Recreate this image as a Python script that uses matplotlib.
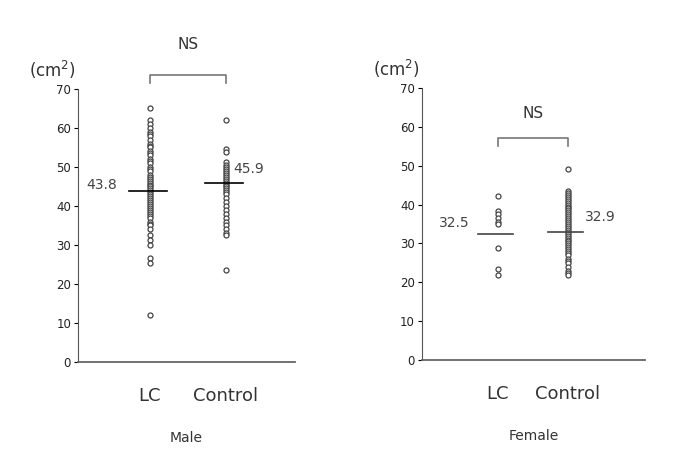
import matplotlib
matplotlib.use("Agg")
import matplotlib.pyplot as plt

# values (cm^2)
groups = ["LC", "Control"]
male_lc = [65, 62, 61, 60, 59, 58.5, 58, 57, 56, 55.5, 55, 54, 53.5, 53, 52, 51.5, 51, 50,
           49.5, 49, 48, 47.5, 47, 46.5, 46, 45.5, 45, 44.5, 44, 43.5, 43, 42.5, 42, 41.5,
           41, 40.5, 40, 39.5, 39, 38.5, 38, 37.5, 37, 36, 35.5, 35, 34, 32.6, 31.4, 30,
           26.6, 25.3, 12]
male_ctl = [62, 54.6, 53.8, 51.2, 50.5, 50, 49.5, 49, 48.5, 48, 47.5, 47, 46.5, 46, 45.5,
            45, 44.5, 44, 43.5, 43, 42, 41, 40, 39, 38, 37, 36, 35, 34, 33, 32.6, 23.6]
female_lc = [42.2, 38.3, 37.5, 36.5, 35.5, 34.9, 28.9, 23.5, 22]
female_ctl = [49.1, 43.5, 43, 42.5, 42, 41.5, 41, 40.5, 40, 39.5, 39, 38.5, 38, 37.5, 37,
              36.5, 36, 35.5, 35, 34.5, 34, 33.5, 33, 32.5, 32, 31.5, 31, 30.5, 30, 29.5,
              29, 28.5, 28, 27.5, 27, 26, 25.5, 25, 24, 23, 22.5, 22]
male_means = [43.8, 45.9]
female_means = [32.5, 32.9]
yticks = [0, 10, 20, 30, 40, 50, 60, 70]

fig = plt.figure(figsize=(6.73, 4.72), dpi=100)
ax1 = fig.add_axes([0.1159, 0.2331, 0.3224, 0.5784])
ax2 = fig.add_axes([0.627, 0.2373, 0.331, 0.5763])

txt = "#333333"


def panel(ax, lc, ctl, means, xlim, bracket_y, ns_y, label_pos, title, line_col):
    for x, vals in zip([1, 2], [lc, ctl]):
        ax.plot([x] * len(vals), vals, "o", ms=3.6, mfc="white", mec="#444444",
                mew=0.9, clip_on=False, zorder=3)
    for x, m in zip([1, 2], means):
        ax.plot([x - 0.28, x + 0.22], [m, m], color=line_col, lw=1.2, zorder=4)
    for (lx, ly, ha), m in zip(label_pos, means):
        ax.text(lx, ly, f"{m}", ha=ha, va="center", fontsize=10, color="#444444")
    # NS bracket
    ax.plot([1, 1, 2, 2], [bracket_y - 2, bracket_y, bracket_y, bracket_y - 2],
            color="#777777", lw=1.2, clip_on=False)
    ax.text(1.5, ns_y, "NS", ha="center", va="center", fontsize=11, color=txt)
    ax.set_xlim(*xlim)
    ax.set_ylim(0, 70)
    ax.set_yticks(yticks)
    ax.set_xticks([1, 2])
    ax.set_xticklabels(groups, fontsize=13, color=txt)
    ax.tick_params(axis="x", length=0, pad=18)
    ax.tick_params(axis="y", length=3, labelsize=8.5, pad=2, labelcolor="#222222")
    for s in ["top", "right"]:
        ax.spines[s].set_visible(False)
    ax.spines["left"].set_color("#555555")
    ax.spines["bottom"].set_color("#666666")
    ax.spines["bottom"].set_linewidth(1.3)
    ax.text(-0.01, 1.03, "(cm$^2$)", transform=ax.transAxes, ha="right", va="bottom",
            fontsize=12, color=txt)
    ax.set_xlabel(title, fontsize=10, color=txt, labelpad=19)


panel(ax1, male_lc, male_ctl, male_means, (0.053, 2.908), 73.6, 81.5,
      [(0.57, 45.5, "right"), (2.1, 49.5, "left")], "Male", "black")
panel(ax2, female_lc, female_ctl, female_means, (-0.086, 3.1), 57.1, 63.5,
      [(0.6, 35.2, "right"), (2.25, 36.7, "left")], "Female", "#444444")

fig.savefig("out.png", dpi=100)
